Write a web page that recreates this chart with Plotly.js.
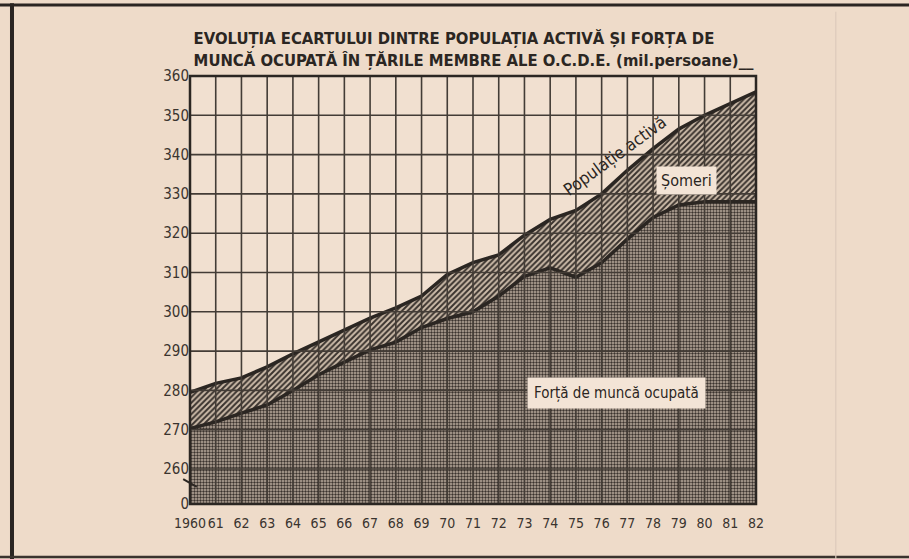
<!DOCTYPE html>
<html><head><meta charset="utf-8">
<script src="https://cdn.plot.ly/plotly-3.0.1.min.js"></script>
<style>html,body{margin:0;padding:0;background:#eedbc9;}#chart{width:909px;height:559px;}</style>
</head><body><div id="chart"></div>
<script>
const years = [1960,1961,1962,1963,1964,1965,1966,1967,1968,1969,1970,1971,1972,1973,1974,1975,1976,1977,1978,1979,1980,1981,1982];
const activePopulation = [279.5,281.8,283.2,286.0,289.3,292.3,295.4,298.4,301.0,304.0,309.5,312.5,314.5,319.5,323.5,325.8,330.0,336.0,341.5,346.5,350.0,353.0,356.0];
const employedLabour = [270.3,272.0,274.2,276.3,280.0,284.0,287.2,290.3,292.3,296.0,298.3,300.0,304.0,309.0,311.2,308.8,312.5,318.5,324.0,327.2,328.0,328.0,328.0];
const xTickLabels = ['1960','61','62','63','64','65','66','67','68','69','70','71','72','73','74','75','76','77','78','79','80','81','82'];
const yTickValues = [251.1,260,270,280,290,300,310,320,330,340,350,360];
const yTickLabels = ['0','260','270','280','290','300','310','320','330','340','350','360'];

const ink = '#2b2622';
const gridInk = '#433c36';
const paperBg = '#eedbc9';
const tickFamily = '"Liberation Sans Narrow","DejaVu Sans Condensed","Liberation Sans",sans-serif';
const titleFamily = '"DejaVu Sans Condensed","DejaVu Sans",sans-serif';

const traces = [
  {
    x: years, y: employedLabour, type: 'scatter', mode: 'lines',
    fill: 'tozeroy', fillcolor: '#a99c8f',
    fillpattern: {shape: '.', fgcolor: '#3a332e', bgcolor: '#bdae9f', size: 3, solidity: 0.5},
    line: {color: ink, width: 3.5}, hoverinfo: 'skip'
  },
  {
    x: years, y: activePopulation, type: 'scatter', mode: 'lines',
    fill: 'tonexty', fillcolor: '#b8aa9a',
    fillpattern: {shape: '/', fgcolor: '#3a332e', bgcolor: '#cdbcaa', size: 4, solidity: 0.5},
    line: {color: ink, width: 3.5}, hoverinfo: 'skip'
  }
];

const shapes = [];
years.forEach(yr => shapes.push({type:'line', xref:'x', yref:'paper', x0:yr, x1:yr, y0:0, y1:1, layer:'above', line:{color:gridInk, width:1.6}}));
yTickValues.forEach(v => shapes.push({type:'line', xref:'paper', yref:'y', x0:0, x1:1, y0:v, y1:v, layer:'above', line:{color:gridInk, width:1.6}}));
shapes.push({type:'rect', xref:'paper', yref:'paper', x0:0, x1:1, y0:0, y1:1, layer:'above', line:{color:ink, width:2.5}});
shapes.push({type:'line', xref:'paper', yref:'paper', x0:-0.012, x1:0.012, y0:0.058, y1:0.04, layer:'above', line:{color:ink, width:2}});
// page frame (printed rules)
shapes.push({type:'line', xref:'paper', yref:'paper', x0:-0.34, x1:1.3, y0:1.166, y1:1.166, line:{color:'#2a2522', width:3}});
shapes.push({type:'line', xref:'paper', yref:'paper', x0:-0.3145, x1:-0.3145, y0:-0.2, y1:1.17, line:{color:'#2a2522', width:4}});
shapes.push({type:'line', xref:'paper', yref:'paper', x0:-0.34, x1:1.3, y0:-0.124, y1:-0.124, line:{color:'#3a332e', width:2.5}});
shapes.push({type:'line', xref:'paper', yref:'paper', x0:1.141, x1:1.141, y0:-0.2, y1:1.15, line:{color:'#dccabb', width:1.2}});

const annotations = [
  {x:1976.5, y:339.6, xref:'x', yref:'y', text:'Populație activă', showarrow:false, textangle:-36,
   font:{family:titleFamily, size:17, color:ink}},
  {x:1979.28, y:333.4, xref:'x', yref:'y', text:'Șomeri', showarrow:false, bgcolor:'#f3e4d6', borderpad:4,
   font:{family:titleFamily, size:16, color:ink}},
  {x:1976.57, y:279.3, xref:'x', yref:'y', text:'Forță de muncă ocupată', showarrow:false, bgcolor:'#f3e4d6', borderpad:6,
   font:{family:titleFamily, size:15, color:ink}}
];

const layout = {
  width: 909, height: 559,
  paper_bgcolor: paperBg, plot_bgcolor: '#f1e0d0',
  margin: {l:190, r:153, t:76, b:55},
  showlegend: false,
  title: {
    text: '<b>EVOLUȚIA ECARTULUI DINTRE POPULAȚIA ACTIVĂ ȘI FORȚA DE<br>MUNCĂ OCUPATĂ ÎN ȚĂRILE MEMBRE ALE O.C.D.E. (mil.persoane)__</b>',
    x: 0.213, xanchor: 'left', y: 0.921, yanchor: 'top', yref: 'container',
    font: {family: titleFamily, size: 16.5, color: ink}
  },
  xaxis: {
    range: [1960, 1982], tickvals: years, ticktext: xTickLabels, tickangle: 0,
    showgrid: false, zeroline: false, showline: false, ticks: '', ticklabelstandoff: 9,
    tickfont: {family: tickFamily, size: 14, color: '#3a342f'}, fixedrange: true
  },
  yaxis: {
    range: [251.1, 360], tickvals: yTickValues, ticktext: yTickLabels,
    showgrid: false, zeroline: false, showline: false, ticks: '',
    tickfont: {family: tickFamily, size: 15, color: '#3a342f'}, fixedrange: true
  },
  shapes: shapes,
  annotations: annotations
};

Plotly.newPlot('chart', traces, layout, {displayModeBar: false, staticPlot: true});
</script></body></html>
